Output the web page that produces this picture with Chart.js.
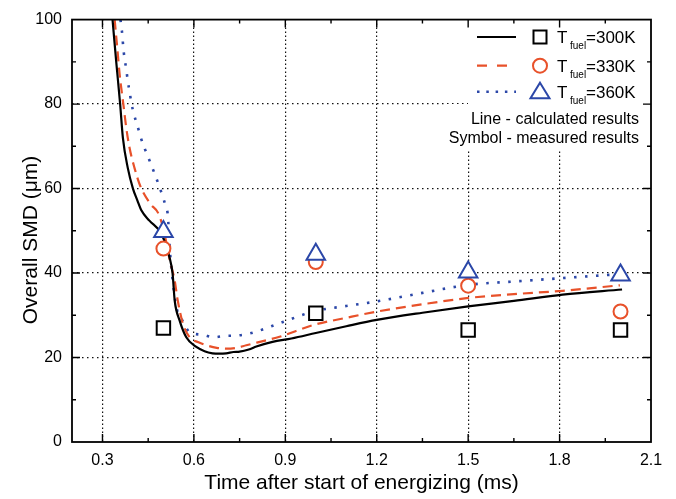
<!DOCTYPE html>
<html><head><meta charset="utf-8">
<script src="https://cdn.jsdelivr.net/npm/chart.js@4.4.1/dist/chart.umd.min.js"></script>
<style>html,body{margin:0;padding:0;background:#fff;}canvas{display:block;}</style>
</head><body>
<canvas id="c" width="676" height="499"></canvas>
<script>
// ---- data ----
const xTicks = [0.3, 0.6, 0.9, 1.2, 1.5, 1.8, 2.1];
const xMinorTicks = [0.45, 0.75, 1.05, 1.35, 1.65, 1.95];
const yTicks = [0, 20, 40, 60, 80, 100];
const yMinorTicks = [10, 30, 50, 70, 90];

const legendTemps = ['=300K', '=330K', '=360K'];
const legendNotes = ['Line - calculated results', 'Symbol - measured results'];

// calculated results (lines)
const t300 = [0.333,0.345,0.358,0.367,0.383,0.400,0.415,0.427,0.454,0.493,0.520,0.530,0.537,0.553,0.575,0.608,0.635,0.661,0.685,0.706,0.730,0.750,0.780,0.805,0.858,0.920,1.000,1.100,1.200,1.350,1.500,1.650,1.810,2.005];
const smd300 = [100,90.1,80.0,72.0,64.9,60.0,57.1,54.9,52.4,49.3,43.7,39.9,33.5,28.8,24.8,22.5,21.5,21.0,20.9,21.0,21.3,21.4,21.9,22.6,23.7,24.5,25.8,27.4,28.9,30.6,32.1,33.4,34.9,36.1];

const t330 = [0.340,0.350,0.356,0.363,0.370,0.378,0.389,0.405,0.424,0.458,0.482,0.500,0.510,0.520,0.537,0.547,0.564,0.586,0.615,0.641,0.675,0.706,0.740,0.772,0.838,0.881,0.992,1.100,1.202,1.350,1.501,1.650,1.810,1.998];
const smd330 = [100,92.1,87.3,83.0,79.1,74.4,69.6,64.9,60.6,56.3,54.3,50.5,47.0,43.3,38.2,33.5,28.0,24.8,23.6,22.9,22.3,22.1,22.3,22.9,24.1,24.9,27.7,29.4,30.9,32.6,34.1,35.0,35.8,37.1];

const t360 = [0.359,0.365,0.368,0.372,0.378,0.383,0.389,0.395,0.404,0.415,0.426,0.439,0.454,0.469,0.483,0.496,0.507,0.515,0.519,0.527,0.544,0.562,0.586,0.628,0.665,0.701,0.739,0.777,0.816,0.854,0.892,0.992,1.100,1.202,1.350,1.501,1.650,1.810,2.010];
const smd360 = [100,96.4,93.6,91.0,88.3,85.5,82.9,80.2,77.4,74.8,72.0,69.4,66.7,63.9,61.2,58.5,55.9,53.3,47.8,40.5,31.5,28.8,26.0,25.4,24.8,25.1,25.2,25.6,26.4,27.4,28.4,30.9,32.2,33.3,35.3,37.2,38.0,38.8,39.8];

// measured results (symbols)
const tMeas = [0.5, 1.0, 1.5, 2.0];
const meas300 = [27.0, 30.5, 26.5, 26.5];
const meas330 = [45.8, 42.6, 37.0, 30.9];
const meas360 = [49.8, 44.4, 40.2, 39.5];

// ---- styling ----
const BLACK = '#000000';
const RED = '#e8512a';
const BLUE = '#2b47a8';
const FONT = "'Liberation Sans', Arial, Helvetica, sans-serif";
Chart.defaults.font.family = FONT;
Chart.defaults.color = '#000';

const pts = (xs, ys) => xs.map((x, i) => ({x: x, y: ys[i]}));

function lineDs(xs, ys, color, width, dash, order) {
  return {type: 'line', data: pts(xs, ys), borderColor: color, borderWidth: width,
    borderDash: dash, borderCapStyle: 'butt', pointRadius: 0, fill: false,
    cubicInterpolationMode: 'monotone', order: order};
}
function markDs(ys, color, style, radius, order) {
  return {type: 'line', data: pts(tMeas, ys), showLine: false, borderColor: color,
    pointBorderColor: color, pointBackgroundColor: '#ffffff', pointBorderWidth: 2,
    pointStyle: style, pointRadius: radius, order: order};
}

const frame = {
  id: 'frame',
  beforeDatasetsDraw(chart) {
    const ctx = chart.ctx;
    ctx.save();
    ctx.fillStyle = '#ffffff';
    ctx.fillRect(468, 19, 183, 85);
    ctx.fillRect(444, 104, 207, 47);
    ctx.restore();
  },
  afterDraw(chart) {
    const ctx = chart.ctx, a = chart.chartArea;
    const xs = chart.scales.x, ys = chart.scales.y;
    ctx.save();
    ctx.strokeStyle = '#000';
    ctx.setLineDash([]);
    // inside tick marks on all four sides
    ctx.lineWidth = 1.4;
    const tick = (px, len, vertical) => {
      ctx.beginPath();
      if (vertical) {
        ctx.moveTo(px, a.bottom); ctx.lineTo(px, a.bottom - len);
        ctx.moveTo(px, a.top); ctx.lineTo(px, a.top + len);
      } else {
        ctx.moveTo(a.left, px); ctx.lineTo(a.left + len, px);
        ctx.moveTo(a.right, px); ctx.lineTo(a.right - len, px);
      }
      ctx.stroke();
    };
    xTicks.forEach(v => { if (v < 2.09) tick(xs.getPixelForValue(v), 8, true); });
    xMinorTicks.forEach(v => tick(xs.getPixelForValue(v), 4, true));
    yTicks.forEach(v => { if (v > 0 && v < 100) tick(ys.getPixelForValue(v), 8, false); });
    yMinorTicks.forEach(v => tick(ys.getPixelForValue(v), 4, false));
    // frame
    ctx.lineWidth = 1.8;
    ctx.strokeRect(a.left, a.top, a.right - a.left, a.bottom - a.top);

    // legend
    const rows = [
      {y: 37, tb: 43.3, color: BLACK, dash: [], w: 2.2, mark: 'rect'},
      {y: 65.7, tb: 71.7, color: RED, dash: [10, 10], w: 2.2, mark: 'circle'},
      {y: 91.7, tb: 98.3, color: BLUE, dash: [2.5, 6.8], w: 2.6, mark: 'triangle'}
    ];
    rows.forEach((r, i) => {
      ctx.strokeStyle = r.color;
      ctx.lineWidth = r.w;
      ctx.setLineDash(r.dash);
      ctx.lineCap = 'butt';
      ctx.beginPath(); ctx.moveTo(477, r.y); ctx.lineTo(516, r.y); ctx.stroke();
      ctx.setLineDash([]);
      ctx.lineWidth = 2;
      ctx.fillStyle = '#fff';
      ctx.beginPath();
      if (r.mark === 'rect') {
        ctx.rect(533.5, r.y - 6.5, 13, 13);
      } else if (r.mark === 'circle') {
        ctx.arc(540, r.y, 7, 0, Math.PI * 2);
      } else {
        ctx.moveTo(540, r.y - 9); ctx.lineTo(549.5, r.y + 6.5); ctx.lineTo(530.5, r.y + 6.5); ctx.closePath();
      }
      ctx.fill(); ctx.stroke();
      ctx.fillStyle = '#000';
      ctx.textAlign = 'left';
      ctx.textBaseline = 'alphabetic';
      ctx.font = '17px ' + FONT;
      ctx.fillText('T', 557, r.tb);
      ctx.font = '10px ' + FONT;
      ctx.fillText('fuel', 570, r.tb + 6);
      ctx.font = '17px ' + FONT;
      ctx.fillText(legendTemps[i], 586, r.tb);
    });
    ctx.font = '16px ' + FONT;
    ctx.textAlign = 'right';
    ctx.fillText(legendNotes[0], 639, 123.5);
    ctx.fillText(legendNotes[1], 639, 142.8);

    // y axis title
    ctx.translate(31, 240);
    ctx.rotate(-Math.PI / 2);
    ctx.textAlign = 'center';
    ctx.textBaseline = 'middle';
    ctx.font = '21px ' + FONT;
    ctx.fillText('Overall SMD (\u03BCm)', 0, 0);
    ctx.restore();
  }
};

new Chart(document.getElementById('c'), {
  type: 'line',
  data: {
    datasets: [
      markDs(meas360, BLUE, 'triangle', 10.7, 1),
      markDs(meas330, RED, 'circle', 7, 2),
      markDs(meas300, BLACK, 'rect', 9.5, 3),
      lineDs(t300, smd300, BLACK, 2.2, [], 4),
      lineDs(t330, smd330, RED, 2.2, [10, 6], 5),
      lineDs(t360, smd360, BLUE, 2.6, [2.5, 8.5], 6)
    ]
  },
  options: {
    responsive: false,
    animation: false,
    events: [],
    layout: {padding: {top: 18, right: 25, left: 0, bottom: 0}},
    plugins: {legend: {display: false}, tooltip: {enabled: false}},
    scales: {
      x: {
        type: 'linear', min: 0.2, max: 2.1, bounds: 'data',
        afterBuildTicks: s => { s.ticks = xTicks.map(v => ({value: v})); },
        afterFit: s => { s.height = 57; },
        ticks: {callback: v => Number(v).toFixed(1), font: {size: 16}, color: '#000', padding: 9, autoSkip: false, maxRotation: 0},
        grid: {color: c => (c.tick && c.tick.value > 2.09) ? 'rgba(0,0,0,0)' : '#111', lineWidth: 1.2, drawTicks: false},
        border: {display: false, dash: [1.5, 2.5]},
        title: {display: true, text: 'Time after start of energizing (ms)', font: {size: 21}, color: '#000', padding: {top: 0, bottom: 3}}
      },
      y: {
        type: 'linear', min: 0, max: 100, bounds: 'data',
        afterBuildTicks: s => { s.ticks = yTicks.map(v => ({value: v})); },
        afterFit: s => { s.width = 72; },
        ticks: {font: {size: 16}, color: '#000', padding: 10},
        grid: {color: c => (c.tick && (c.tick.value === 0 || c.tick.value === 100)) ? 'rgba(0,0,0,0)' : '#111', lineWidth: 1.2, drawTicks: false},
        border: {display: false, dash: [1.5, 3.5]}
      }
    }
  },
  plugins: [frame]
});
</script>
</body></html>
